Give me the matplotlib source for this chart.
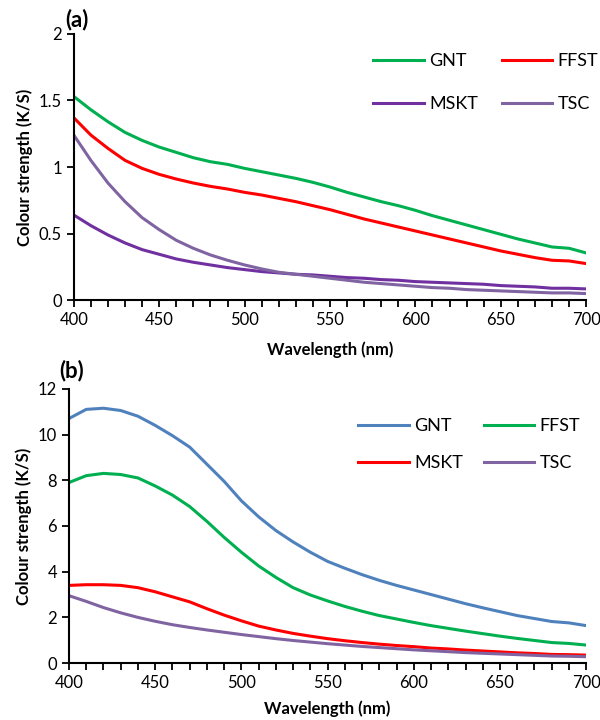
import numpy as np
import matplotlib.pyplot as plt
from matplotlib.ticker import MultipleLocator, FormatStrFormatter

plt.rcParams['font.family'] = ['Lato', 'DejaVu Sans']

wavelength = np.arange(400, 701, 10)

# panel (a)
a_gnt = [1.53, 1.43, 1.34, 1.26, 1.20, 1.15, 1.11, 1.07, 1.04, 1.02, 0.99,
         0.965, 0.94, 0.915, 0.885, 0.85, 0.81, 0.775, 0.74, 0.71, 0.675,
         0.635, 0.60, 0.565, 0.53, 0.495, 0.46, 0.43, 0.40, 0.39, 0.355]
a_ffst = [1.37, 1.24, 1.14, 1.05, 0.99, 0.945, 0.91, 0.88, 0.855, 0.835, 0.81,
          0.79, 0.765, 0.74, 0.71, 0.68, 0.645, 0.61, 0.58, 0.55, 0.52,
          0.49, 0.46, 0.43, 0.40, 0.37, 0.345, 0.32, 0.30, 0.295, 0.275]
a_mskt = [0.64, 0.56, 0.49, 0.43, 0.38, 0.345, 0.31, 0.285, 0.265, 0.245, 0.23,
          0.215, 0.205, 0.195, 0.19, 0.18, 0.17, 0.165, 0.155, 0.15, 0.14,
          0.135, 0.13, 0.125, 0.12, 0.11, 0.105, 0.10, 0.09, 0.09, 0.085]
a_tsc = [1.24, 1.05, 0.88, 0.74, 0.62, 0.53, 0.45, 0.39, 0.34, 0.30, 0.265,
         0.235, 0.21, 0.195, 0.18, 0.165, 0.15, 0.135, 0.125, 0.115, 0.105,
         0.095, 0.09, 0.08, 0.075, 0.07, 0.065, 0.06, 0.055, 0.055, 0.05]

# panel (b)
b_gnt = [10.7, 11.1, 11.15, 11.05, 10.8, 10.4, 9.95, 9.45, 8.7, 7.95, 7.1,
         6.4, 5.8, 5.3, 4.85, 4.45, 4.15, 3.87, 3.62, 3.4, 3.2,
         3.0, 2.8, 2.6, 2.42, 2.25, 2.08, 1.95, 1.82, 1.76, 1.64]
b_ffst = [7.9, 8.2, 8.3, 8.25, 8.1, 7.75, 7.35, 6.85, 6.2, 5.5, 4.85,
          4.25, 3.75, 3.3, 2.98, 2.72, 2.48, 2.27, 2.08, 1.93, 1.78,
          1.64, 1.52, 1.4, 1.29, 1.18, 1.08, 0.99, 0.9, 0.86, 0.79]
b_mskt = [3.4, 3.43, 3.43, 3.4, 3.3, 3.12, 2.9, 2.68, 2.38, 2.1, 1.85,
          1.62, 1.45, 1.3, 1.18, 1.07, 0.98, 0.9, 0.83, 0.77, 0.72,
          0.66, 0.62, 0.57, 0.53, 0.49, 0.45, 0.42, 0.38, 0.37, 0.35]
b_tsc = [2.95, 2.7, 2.43, 2.2, 2.0, 1.83, 1.68, 1.56, 1.45, 1.35, 1.25,
         1.16, 1.07, 0.99, 0.92, 0.85, 0.79, 0.73, 0.68, 0.63, 0.58,
         0.54, 0.5, 0.46, 0.43, 0.4, 0.37, 0.34, 0.31, 0.3, 0.28]

labels = ["GNT", "FFST", "MSKT", "TSC"]
colors_a = ["#00B050", "#FF0000", "#7030A0", "#8064A2"]
colors_b = ["#4F81BD", "#00B050", "#FF0000", "#8064A2"]

fig = plt.figure(figsize=(6, 7.2), dpi=100)
ax1 = fig.add_axes([0.123, 0.583, 0.854, 0.37])
ax2 = fig.add_axes([0.115, 0.079, 0.862, 0.381])


def style(ax, ymax, ystep, anchor, colspace, rowspace, xpad):
    ax.set_xlim(400, 700)
    ax.set_ylim(0, ymax)
    ax.xaxis.set_major_locator(MultipleLocator(50))
    ax.xaxis.set_minor_locator(MultipleLocator(10))
    ax.yaxis.set_major_locator(MultipleLocator(ystep))
    ax.yaxis.set_major_formatter(FormatStrFormatter("%g"))
    for s in ["top", "right"]:
        ax.spines[s].set_visible(False)
    for s in ["left", "bottom"]:
        ax.spines[s].set_linewidth(1.5)
    ax.tick_params(axis="both", which="major", direction="out", length=5,
                   width=1.3, labelsize=12, colors="black")
    ax.tick_params(axis="x", which="minor", direction="out", length=5, width=1.3)
    ax.set_xlabel("Wavelength (nm)", fontsize=12, fontweight="bold", labelpad=xpad)
    ax.set_ylabel("Colour strength (K/S)", fontsize=12, fontweight="bold")
    # row-wise legend order: GNT FFST / MSKT TSC
    h, l = ax.get_legend_handles_labels()
    order = [0, 2, 1, 3]
    ax.legend([h[i] for i in order], [l[i] for i in order], ncol=2,
              frameon=False, fontsize=13, loc="upper right",
              bbox_to_anchor=anchor, bbox_transform=fig.transFigure,
              borderpad=0, borderaxespad=0, labelspacing=rowspace,
              columnspacing=colspace, handlelength=2.8, handletextpad=0.3)


for ys, c, lab in zip([a_gnt, a_ffst, a_mskt, a_tsc], colors_a, labels):
    ax1.plot(wavelength, ys, color=c, lw=2.2, label=lab)
style(ax1, 2, 0.5, (0.997, 0.926), 1.3, 1.5, 10)

for ys, c, lab in zip([b_gnt, b_ffst, b_mskt, b_tsc], colors_b, labels):
    ax2.plot(wavelength, ys, color=c, lw=2.2, label=lab)
style(ax2, 12, 2, (0.967, 0.419), 1.15, 1.15, 7)

fig.text(0.108, 0.963, "(a)", fontsize=16, fontweight="bold")
fig.text(0.098, 0.476, "(b)", fontsize=16, fontweight="bold")

fig.savefig("out.png", dpi=100)
